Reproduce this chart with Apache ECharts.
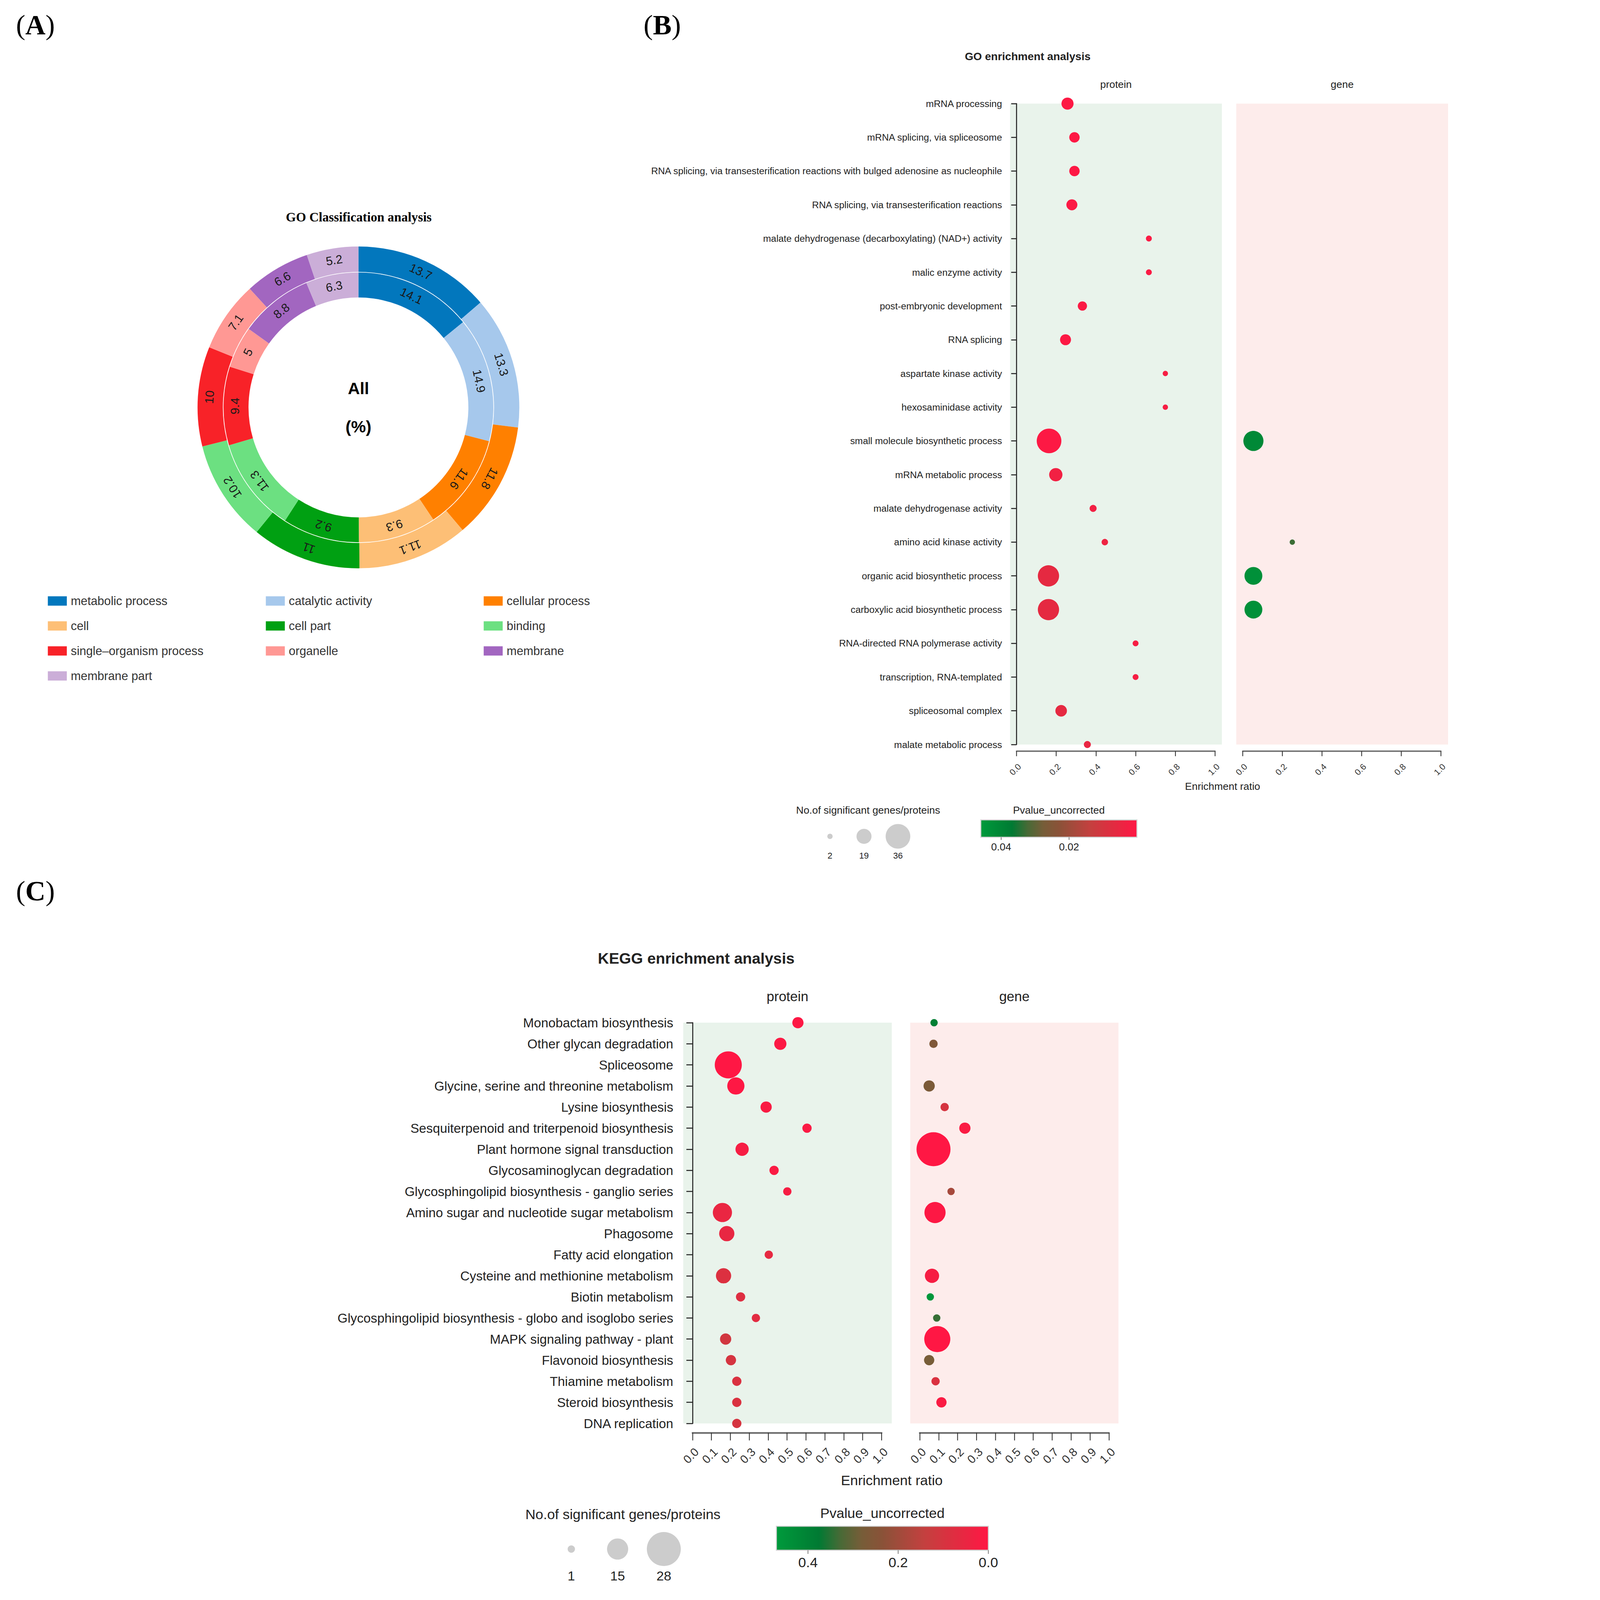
<!DOCTYPE html>
<html>
<head>
<meta charset="utf-8">
<title>GO classification, GO and KEGG enrichment</title>
<script src="https://cdn.jsdelivr.net/npm/echarts@6.0.0/dist/echarts.min.js"></script>
<style>
html, body { margin: 0; padding: 0; background: #fff; overflow: hidden; }
#main { width: 4409px; height: 4803px; transform-origin: 0 0; }
</style>
</head>
<body>
<div id="main"></div>
<script>
// ---------- data ----------
var classNames = ['metabolic process', 'catalytic activity', 'cellular process', 'cell', 'cell part',
  'binding', 'single–organism process', 'organelle', 'membrane', 'membrane part'];
var outerPct = [13.7, 13.3, 11.8, 11.1, 11, 10.2, 10, 7.1, 6.6, 5.2];
var innerPct = [14.1, 14.9, 11.6, 9.3, 9.2, 11.3, 9.4, 5, 8.8, 6.3];

var goTerms = [
  'mRNA processing',
  'mRNA splicing, via spliceosome',
  'RNA splicing, via transesterification reactions with bulged adenosine as nucleophile',
  'RNA splicing, via transesterification reactions',
  'malate dehydrogenase (decarboxylating) (NAD+) activity',
  'malic enzyme activity',
  'post-embryonic development',
  'RNA splicing',
  'aspartate kinase activity',
  'hexosaminidase activity',
  'small molecule biosynthetic process',
  'mRNA metabolic process',
  'malate dehydrogenase activity',
  'amino acid kinase activity',
  'organic acid biosynthetic process',
  'carboxylic acid biosynthetic process',
  'RNA-directed RNA polymerase activity',
  'transcription, RNA-templated',
  'spliceosomal complex',
  'malate metabolic process'
];
var goProteinRatio = [0.257, 0.292, 0.292, 0.279, 0.667, 0.667, 0.332, 0.247, 0.75, 0.75,
  0.164, 0.198, 0.386, 0.445, 0.161, 0.161, 0.6, 0.6, 0.225, 0.357];
var goProteinCount = [14, 11, 11, 12, 3, 3, 9, 12, 2, 2, 36, 16, 5, 4, 30, 30, 3, 3, 13, 5];
var goProteinP = [0.0005, 0.0004, 0.0004, 0.0006, 0.001, 0.001, 0.001, 0.0008, 0.002, 0.002,
  0.0005, 0.003, 0.003, 0.004, 0.006, 0.006, 0.002, 0.002, 0.006, 0.005];
var goGeneRatio = [null, null, null, null, null, null, null, null, null, null,
  0.054, null, null, 0.25, 0.054, 0.054, null, null, null, null];
var goGeneCount = [null, null, null, null, null, null, null, null, null, null,
  28, null, null, 2, 24, 24, null, null, null, null];
var goGeneP = [null, null, null, null, null, null, null, null, null, null,
  0.041, null, null, 0.033, 0.043, 0.043, null, null, null, null];
var goSizeTicks = [2, 19, 36];
var goPTicks = [0.04, 0.02];
var goPMax = 0.046;

var keggTerms = [
  'Monobactam biosynthesis',
  'Other glycan degradation',
  'Spliceosome',
  'Glycine, serine and threonine metabolism',
  'Lysine biosynthesis',
  'Sesquiterpenoid and triterpenoid biosynthesis',
  'Plant hormone signal transduction',
  'Glycosaminoglycan degradation',
  'Glycosphingolipid biosynthesis - ganglio series',
  'Amino sugar and nucleotide sugar metabolism',
  'Phagosome',
  'Fatty acid elongation',
  'Cysteine and methionine metabolism',
  'Biotin metabolism',
  'Glycosphingolipid biosynthesis - globo and isoglobo series',
  'MAPK signaling pathway - plant',
  'Flavonoid biosynthesis',
  'Thiamine metabolism',
  'Steroid biosynthesis',
  'DNA replication'
];
var keggProteinRatio = [0.556, 0.463, 0.188, 0.228, 0.388, 0.604, 0.261, 0.43, 0.5, 0.157,
  0.18, 0.402, 0.163, 0.253, 0.334, 0.174, 0.202, 0.233, 0.233, 0.233];
var keggProteinCount = [5, 6, 21, 11, 5, 3, 7, 3, 2, 13, 9, 2, 9, 3, 2, 5, 4, 3, 3, 3];
var keggProteinP = [0.005, 0.006, 0.0005, 0.003, 0.015, 0.01, 0.02, 0.012, 0.02, 0.05,
  0.055, 0.06, 0.085, 0.08, 0.07, 0.11, 0.1, 0.09, 0.09, 0.1];
var keggGeneRatio = [0.076, 0.073, null, 0.05, 0.132, 0.239, 0.073, null, 0.166, 0.081,
  null, null, 0.065, 0.056, 0.09, 0.093, 0.05, 0.084, 0.115, null];
var keggGeneCount = [1, 2, null, 5, 2, 5, 28, null, 1, 15, null, null, 8, 1, 1, 20, 4, 2, 4, null];
var keggGeneP = [0.39, 0.26, null, 0.27, 0.10, 0.012, 0.0005, null, 0.19, 0.004,
  null, null, 0.02, 0.46, 0.34, 0.0008, 0.28, 0.09, 0.012, null];
var keggSizeTicks = [1, 15, 28];
var keggPTicks = [0.4, 0.2, 0.0];
var keggPMax = 0.47;

// ---------- styles ----------
var SANS = '"Liberation Sans", Arial, sans-serif';
var SERIF = '"Liberation Serif", "Times New Roman", serif';
var classColors = ['#0277bd', '#a6c8ec', '#ff8000', '#fdbf76', '#00a012',
  '#6ce081', '#f82228', '#ff9894', '#a266c0', '#cbaed8'];
// p = 0 (red) ... p = max (green)
var pColors = ['#ff1744', '#eb2542', '#d83240', '#c4403f', '#a7493c', '#8a5238',
  '#765d38', '#476a36', '#007a33', '#008a37', '#009a3c'];

// 窗口比 4409 窄时整体缩放，保证整张图都在可见区域内
var mainEl = document.getElementById('main');
var fitK = Math.min((window.innerWidth || 4409) / 4409, (window.innerHeight || 4803) / 4803);
if (fitK < 0.999) {
  mainEl.style.transform = 'scale(' + fitK + ')';
}

function ringData(values) {
  var total = values.reduce(function (a, b) { return a + b; }, 0);
  var cum = 0;
  return values.map(function (v, i) {
    var mid = (cum + v / 2) / total * 360;   // 顺时针角度，用于切向旋转标签
    cum += v;
    return { name: classNames[i], value: v, itemStyle: { color: classColors[i] }, label: { rotate: -mid } };
  });
}

function bubbles(terms, ratio, count, p) {
  var out = [];
  for (var i = 0; i < terms.length; i++) {
    if (ratio[i] == null) continue;
    out.push([ratio[i], terms[i], count[i], p[i]]);
  }
  return out;
}

function txt(str, x, y, size, opt) {
  opt = opt || {};
  var al = opt.align || 'center';
  return {
    type: 'text', x: x, y: y, silent: true,
    style: {
      text: str,
      font: (opt.bold ? 'bold ' : '') + size + 'px ' + (opt.family || SANS),
      fill: opt.color || '#222',
      align: al, textAlign: al,
      verticalAlign: 'middle', textVerticalAlign: 'middle',
      rich: opt.rich
    }
  };
}

function lerp(v, vmin, vmax, a, b) { return a + (v - vmin) / (vmax - vmin) * (b - a); }

function sizeLegend(els, title, ticks, vmin, vmax, smin, smax, xs, titleX, titleY, cy, labelY, titleSize, labelSize) {
  els.push(txt(title, titleX, titleY, titleSize));
  ticks.forEach(function (t, i) {
    var d = lerp(t, vmin, vmax, smin, smax);
    els.push({ type: 'circle', silent: true, shape: { cx: xs[i], cy: cy, r: d / 2 }, style: { fill: '#cccccc' } });
    els.push(txt(String(t), xs[i], labelY, labelSize));
  });
}

function colorLegend(els, title, ticks, pmax, bx, by, bw, bh, titleY, tickLen, labelY, titleSize, labelSize) {
  var stops = pColors.map(function (c, i) { return { offset: 1 - i / (pColors.length - 1), color: c }; }).reverse();
  els.push(txt(title, bx + bw / 2, titleY, titleSize));
  els.push({ type: 'rect', silent: true, shape: { x: bx, y: by, width: bw, height: bh },
    style: { fill: new echarts.graphic.LinearGradient(0, 0, 1, 0, stops), stroke: '#d0d0d0', lineWidth: 3 } });
  ticks.forEach(function (t) {
    var x = bx + bw * (1 - t / pmax);
    els.push({ type: 'line', silent: true, shape: { x1: x, y1: by + bh, x2: x, y2: by + bh + tickLen },
      style: { stroke: '#666', lineWidth: 2 } });
    els.push(txt(String(t === 0 ? '0.0' : t), x, labelY, labelSize));
  });
}

// ---------- axes ----------
function catAxis(grid, terms, show, fs, margin, tickLen) {
  return {
    type: 'category', gridIndex: grid, data: terms, inverse: true, boundaryGap: false, show: show,
    axisLine: { show: true, lineStyle: { color: '#222', width: 3 } },
    axisTick: { show: true, interval: 0, length: tickLen, lineStyle: { color: '#222', width: 3 } },
    axisLabel: { interval: 0, fontSize: fs, fontFamily: SANS, color: '#222', margin: margin },
    splitLine: { show: false }
  };
}
function hiddenX(grid, min, max) {
  return { type: 'value', gridIndex: grid, min: min, max: max, show: false, splitLine: { show: false } };
}
function ratioAxis(grid, interval, fs, margin, tickLen, lw) {
  return {
    type: 'value', gridIndex: grid, min: 0, max: 1, interval: interval, position: 'bottom',
    axisLine: { show: true, lineStyle: { color: '#6a6a6a', width: lw } },
    axisTick: { show: true, length: tickLen, lineStyle: { color: '#333', width: 2.5 } },
    axisLabel: { rotate: 45, align: 'right', verticalAlign: 'top', margin: margin, fontSize: fs,
      fontFamily: SANS, color: '#333', formatter: function (v) { return v.toFixed(1); } },
    splitLine: { show: false }
  };
}
function hiddenY(grid) { return { type: 'value', gridIndex: grid, min: 0, max: 1, show: false }; }

var grids = [
  // bubble panels
  { left: 3032, top: 311, width: 636, height: 1924, show: true, backgroundColor: '#e9f3eb', borderWidth: 0, outerBoundsMode: 'none' },
  { left: 3711, top: 311, width: 636, height: 1924, show: true, backgroundColor: '#fdeceb', borderWidth: 0, outerBoundsMode: 'none' },
  { left: 2051, top: 3070, width: 626, height: 1203, show: true, backgroundColor: '#e9f3eb', borderWidth: 0, outerBoundsMode: 'none' },
  { left: 2732.5, top: 3070, width: 625, height: 1203, show: true, backgroundColor: '#fdeceb', borderWidth: 0, outerBoundsMode: 'none' },
  // ratio axes (0 .. 1 only)
  { left: 3051.4, top: 2254, width: 596, height: 1, show: false, outerBoundsMode: 'none' },
  { left: 3730.4, top: 2254, width: 595, height: 1, show: false, outerBoundsMode: 'none' },
  { left: 2078.8, top: 4300, width: 567.6, height: 1, show: false, outerBoundsMode: 'none' },
  { left: 2761, top: 4300, width: 567.8, height: 1, show: false, outerBoundsMode: 'none' }
];

var xAxes = [
  hiddenX(0, -0.0326, 1.035), hiddenX(1, -0.0326, 1.035),
  hiddenX(2, -0.05, 1.052), hiddenX(3, -0.05, 1.052),
  ratioAxis(4, 0.2, 26, 33, 15, 4), ratioAxis(5, 0.2, 26, 33, 15, 4),
  ratioAxis(6, 0.1, 35, 39, 23, 5), ratioAxis(7, 0.1, 35, 39, 23, 5)
];
var yAxes = [
  catAxis(0, goTerms, true, 28.6, 24, 16), catAxis(1, goTerms, false, 28.6, 24, 16),
  catAxis(2, keggTerms, true, 39, 30, 19), catAxis(3, keggTerms, false, 39, 30, 19),
  hiddenY(4), hiddenY(5), hiddenY(6), hiddenY(7)
];

function scatter(xi, data) {
  return { type: 'scatter', xAxisIndex: xi, yAxisIndex: xi, data: data, clip: false, silent: true,
    symbol: 'circle', itemStyle: { opacity: 1, borderWidth: 0 } };
}

var pieLabel = { show: true, position: 'inside', formatter: '{c}', fontSize: 36, fontFamily: SANS, color: '#1a1a1a' };
var series = [
  { type: 'pie', center: [1076, 1223], radius: [407, 483], silent: true, avoidLabelOverlap: false,
    label: pieLabel, labelLine: { show: false }, itemStyle: { borderWidth: 0 }, data: ringData(outerPct) },
  { type: 'pie', center: [1076, 1223], radius: [330, 405], silent: true, avoidLabelOverlap: false,
    label: pieLabel, labelLine: { show: false }, itemStyle: { borderWidth: 0 }, data: ringData(innerPct) },
  scatter(0, bubbles(goTerms, goProteinRatio, goProteinCount, goProteinP)),
  scatter(1, bubbles(goTerms, goGeneRatio, goGeneCount, goGeneP)),
  scatter(2, bubbles(keggTerms, keggProteinRatio, keggProteinCount, keggProteinP)),
  scatter(3, bubbles(keggTerms, keggGeneRatio, keggGeneCount, keggGeneP)),
  scatter(4, []), scatter(5, []), scatter(6, []), scatter(7, [])
];

var visualMaps = [
  { type: 'continuous', show: false, seriesIndex: [2, 3], dimension: 2, min: 2, max: 36, inRange: { symbolSize: [16, 74] } },
  { type: 'continuous', show: false, seriesIndex: [2, 3], dimension: 3, min: 0, max: goPMax, inRange: { color: pColors } },
  { type: 'continuous', show: false, seriesIndex: [4, 5], dimension: 2, min: 1, max: 28, inRange: { symbolSize: [22, 102] } },
  { type: 'continuous', show: false, seriesIndex: [4, 5], dimension: 3, min: 0, max: keggPMax, inRange: { color: pColors } }
];

// legend for the donut: three columns
var legendLefts = [143.6, 798, 1452];
var legends = legendLefts.map(function (left, col) {
  return {
    orient: 'vertical', left: left, top: 1786, padding: 0, itemGap: 39,
    itemWidth: 57, itemHeight: 28, icon: 'rect', selectedMode: false,
    itemStyle: { borderWidth: 0 },
    textStyle: { fontSize: 36, fontFamily: SANS, color: '#333', padding: [0, 0, 0, 7] },
    data: classNames.filter(function (n, i) { return i % 3 === col; })
  };
});

// ---------- texts and legends ----------
var els = [];
var letterRich = { b: { font: 'bold 84px ' + SERIF, fill: '#000' } };
els.push(txt('({b|A})', 48, 74, 84, { family: SERIF, align: 'left', color: '#000', rich: letterRich }));
els.push(txt('({b|B})', 1932, 74, 84, { family: SERIF, align: 'left', color: '#000', rich: letterRich }));
els.push(txt('({b|C})', 48, 2674, 84, { family: SERIF, align: 'left', color: '#000', rich: letterRich }));

els.push(txt('GO Classification analysis', 1077, 651, 39, { bold: true, family: SERIF, color: '#000' }));
els.push(txt('All', 1076, 1166, 50, { bold: true, color: '#000' }));
els.push(txt('(%)', 1076, 1281, 50, { bold: true, color: '#000' }));

els.push(txt('GO enrichment analysis', 3085, 170, 33, { bold: true }));
els.push(txt('protein', 3350, 253, 31));
els.push(txt('gene', 4029, 253, 31));
els.push(txt('Enrichment ratio', 3670, 2360, 31));
sizeLegend(els, 'No.of significant genes/proteins', goSizeTicks, 2, 36, 16, 74,
  [2491.5, 2593.6, 2695.6], 2606, 2432, 2510.6, 2569, 31, 26);
colorLegend(els, 'Pvalue_uncorrected', goPTicks, goPMax, 2944.3, 2461.3, 468.6, 52, 2432, 8, 2542, 31, 31);

els.push(txt('KEGG enrichment analysis', 2090, 2876, 46, { bold: true }));
els.push(txt('protein', 2364, 2991, 41));
els.push(txt('gene', 3045, 2991, 41));
els.push(txt('Enrichment ratio', 2677, 4444, 42));
sizeLegend(els, 'No.of significant genes/proteins', keggSizeTicks, 1, 28, 22, 102,
  [1715, 1854, 1992.7], 1870, 4546, 4650, 4730, 42, 40);
colorLegend(els, 'Pvalue_uncorrected', keggPTicks, keggPMax, 2330.7, 4581.6, 636.2, 72, 4543, 11, 4691, 42, 42);

var chart = echarts.init(mainEl, null, { renderer: 'svg' });
chart.setOption({
  backgroundColor: '#ffffff',
  animation: false,
  legend: legends,
  grid: grids,
  xAxis: xAxes,
  yAxis: yAxes,
  visualMap: visualMaps,
  series: series,
  graphic: { elements: els }
});
</script>
</body>
</html>
